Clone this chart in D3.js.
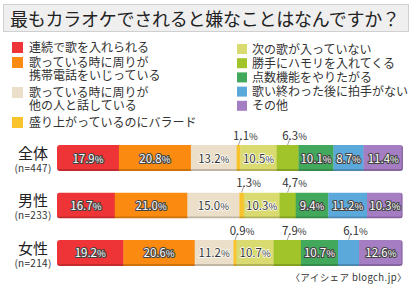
<!DOCTYPE html>
<html>
<head>
<meta charset="utf-8">
<script src="https://cdn.jsdelivr.net/npm/d3@7"></script>
<style>
  body { margin: 0; background: #fff; }
  svg { display: block; font-family: "Noto Sans CJK JP", "Noto Sans", sans-serif; }
</style>
</head>
<body>
<div id="chart"></div>
<script>
const title = "最もカラオケでされると嫌なことはなんですか？";
const categories = ["全体", "男性", "女性"];
const sampleSizes = ["(n=447)", "(n=233)", "(n=214)"];
const answers = [
  "連続で歌を入れられる",
  "歌っている時に周りが\n携帯電話をいじっている",
  "歌っている時に周りが\n他の人と話している",
  "盛り上がっているのにバラード",
  "次の歌が入っていない",
  "勝手にハモリを入れてくる",
  "点数機能をやりたがる",
  "歌い終わった後に拍手がない",
  "その他"
];
const colors = ["#ee3437", "#fa8a10", "#ecdfc9", "#f9c32d", "#d9da70", "#a0c42a", "#42a95c", "#5ba8da", "#a57dc3"];
const darkText = [false, false, true, true, true, false, false, false, false];
const totalValues  = [17.9, 20.8, 13.2, 1.1, 10.5, 6.3, 10.1, 8.7, 11.4];
const maleValues   = [16.7, 21.0, 15.0, 1.3, 10.3, 4.7, 9.4, 11.2, 10.3];
const femaleValues = [19.2, 20.6, 11.2, 0.9, 10.7, 7.9, 10.7, 6.1, 12.6];
const seriesValues = [totalValues, maleValues, femaleValues];
const source = "〈アイシェア blogch.jp〉";

const width = 415, height = 288;
const svg = d3.select("#chart").append("svg")
  .attr("width", width)
  .attr("height", height);

// title box
svg.append("rect")
  .attr("x", 3.5).attr("y", 4.5)
  .attr("width", 405).attr("height", 27)
  .attr("fill", "#efefef")
  .attr("stroke", "#d0d0d0");
svg.append("text")
  .attr("x", 10).attr("y", 25.5)
  .attr("font-size", 18)
  .attr("textLength", 390)
  .attr("fill", "#222")
  .text(title);

// legend: one text element per column, one tspan per line
const leftText = svg.append("text").attr("font-size", 12).attr("fill", "#333");
let ly = 42;
answers.slice(0, 4).forEach((a, i) => {
  const lines = a.split("\n");
  svg.append("rect")
    .attr("x", 12).attr("y", ly)
    .attr("width", 11).attr("height", 11)
    .attr("fill", colors[i]);
  lines.forEach((line, j) => {
    leftText.append("tspan")
      .attr("x", 29).attr("y", ly + 10 + j * 12.5)
      .text(line);
  });
  ly += lines.length === 1 ? 15 : 30;
});
const rightText = svg.append("text").attr("font-size", 12).attr("fill", "#333");
answers.slice(4).forEach((a, i) => {
  const ry = 44 + i * 14.2;
  svg.append("rect")
    .attr("x", 237).attr("y", ry)
    .attr("width", 10).attr("height", 10)
    .attr("fill", colors[i + 4]);
  rightText.append("tspan")
    .attr("x", 252).attr("y", ry + 9.5)
    .text(a);
});

// bars
const x = d3.scaleLinear().domain([0, 100]).range([57, 403]);
const y = d3.scaleBand().domain(categories).range([145, 266]).paddingInner(0.4526).paddingOuter(0);

const defs = svg.append("defs");
categories.forEach((c, ci) => {
  const vals = seriesValues[ci];
  const total = d3.sum(vals);
  const top = y(c), bh = y.bandwidth();
  const clipId = "clip" + ci;
  defs.append("clipPath").attr("id", clipId)
    .append("rect")
    .attr("x", x(0)).attr("y", top)
    .attr("width", x(total) - x(0)).attr("height", bh)
    .attr("rx", 3);

  let cum = 0;
  const segs = vals.map((v, i) => {
    const s = { v, i, x0: cum, x1: cum + v };
    cum += v;
    return s;
  });

  const g = svg.append("g").attr("clip-path", `url(#${clipId})`);
  g.selectAll("rect.seg")
    .data(segs)
    .join("rect")
    .attr("class", "seg")
    .attr("x", d => x(d.x0))
    .attr("y", top)
    .attr("width", d => x(d.x1) - x(d.x0) + 0.3)
    .attr("height", bh)
    .attr("fill", d => colors[d.i]);
  // darker lower edge
  g.append("rect")
    .attr("x", x(0)).attr("y", top + bh - 2)
    .attr("width", x(total) - x(0)).attr("height", 2)
    .attr("fill", "#000").attr("opacity", 0.18);
  g.append("rect")
    .attr("x", x(total) - 1.5).attr("y", top)
    .attr("width", 1.5).attr("height", bh)
    .attr("fill", "#000").attr("opacity", 0.15);

  // labels inside
  const inside = segs.filter(d => d.v >= 8);
  const lab = svg.append("g").selectAll("text")
    .data(inside)
    .join("text")
    .attr("x", d => x((d.x0 + d.x1) / 2))
    .attr("y", top + bh / 2 + 4.5)
    .attr("text-anchor", "middle")
    .attr("font-size", 11.5)
    .attr("paint-order", "stroke")
    .attr("stroke-linejoin", "round")
    .attr("fill", d => darkText[d.i] ? "#333" : "#fff")
    .attr("stroke", d => darkText[d.i] ? "#fff" : "#444")
    .attr("stroke-width", d => darkText[d.i] ? 1.5 : 2.2);
  lab.append("tspan").text(d => d.v.toFixed(1));
  lab.append("tspan").attr("font-size", 9.5).text("%");

  // labels outside
  const outside = segs.filter(d => d.v < 8);
  const og = svg.append("g");
  outside.forEach(d => {
    const cx = x((d.x0 + d.x1) / 2);
    og.append("line")
      .attr("x1", cx).attr("y1", top)
      .attr("x2", cx + 2.5).attr("y2", top - 7)
      .attr("stroke", "#888").attr("stroke-width", 0.8);
    const t = og.append("text")
      .attr("x", cx + 7).attr("y", top - 5)
      .attr("text-anchor", "middle")
      .attr("font-size", 11.5)
      .attr("fill", "#333");
    t.append("tspan").text(d.v.toFixed(1));
    t.append("tspan").attr("font-size", 9.5).text("%");
  });

  // category labels
  svg.append("text")
    .attr("x", 33).attr("y", top + 14)
    .attr("text-anchor", "middle")
    .attr("font-size", 15)
    .attr("fill", "#222")
    .text(c);
  svg.append("text")
    .attr("x", 33).attr("y", top + 27)
    .attr("text-anchor", "middle")
    .attr("font-size", 10)
    .attr("letter-spacing", 0.3)
    .attr("fill", "#333")
    .text(sampleSizes[ci]);
});

svg.append("text")
  .attr("x", 407).attr("y", 281)
  .attr("text-anchor", "end")
  .attr("font-size", 9.5)
  .attr("letter-spacing", 0.4)
  .attr("fill", "#333")
  .text(source);
</script>
</body>
</html>
